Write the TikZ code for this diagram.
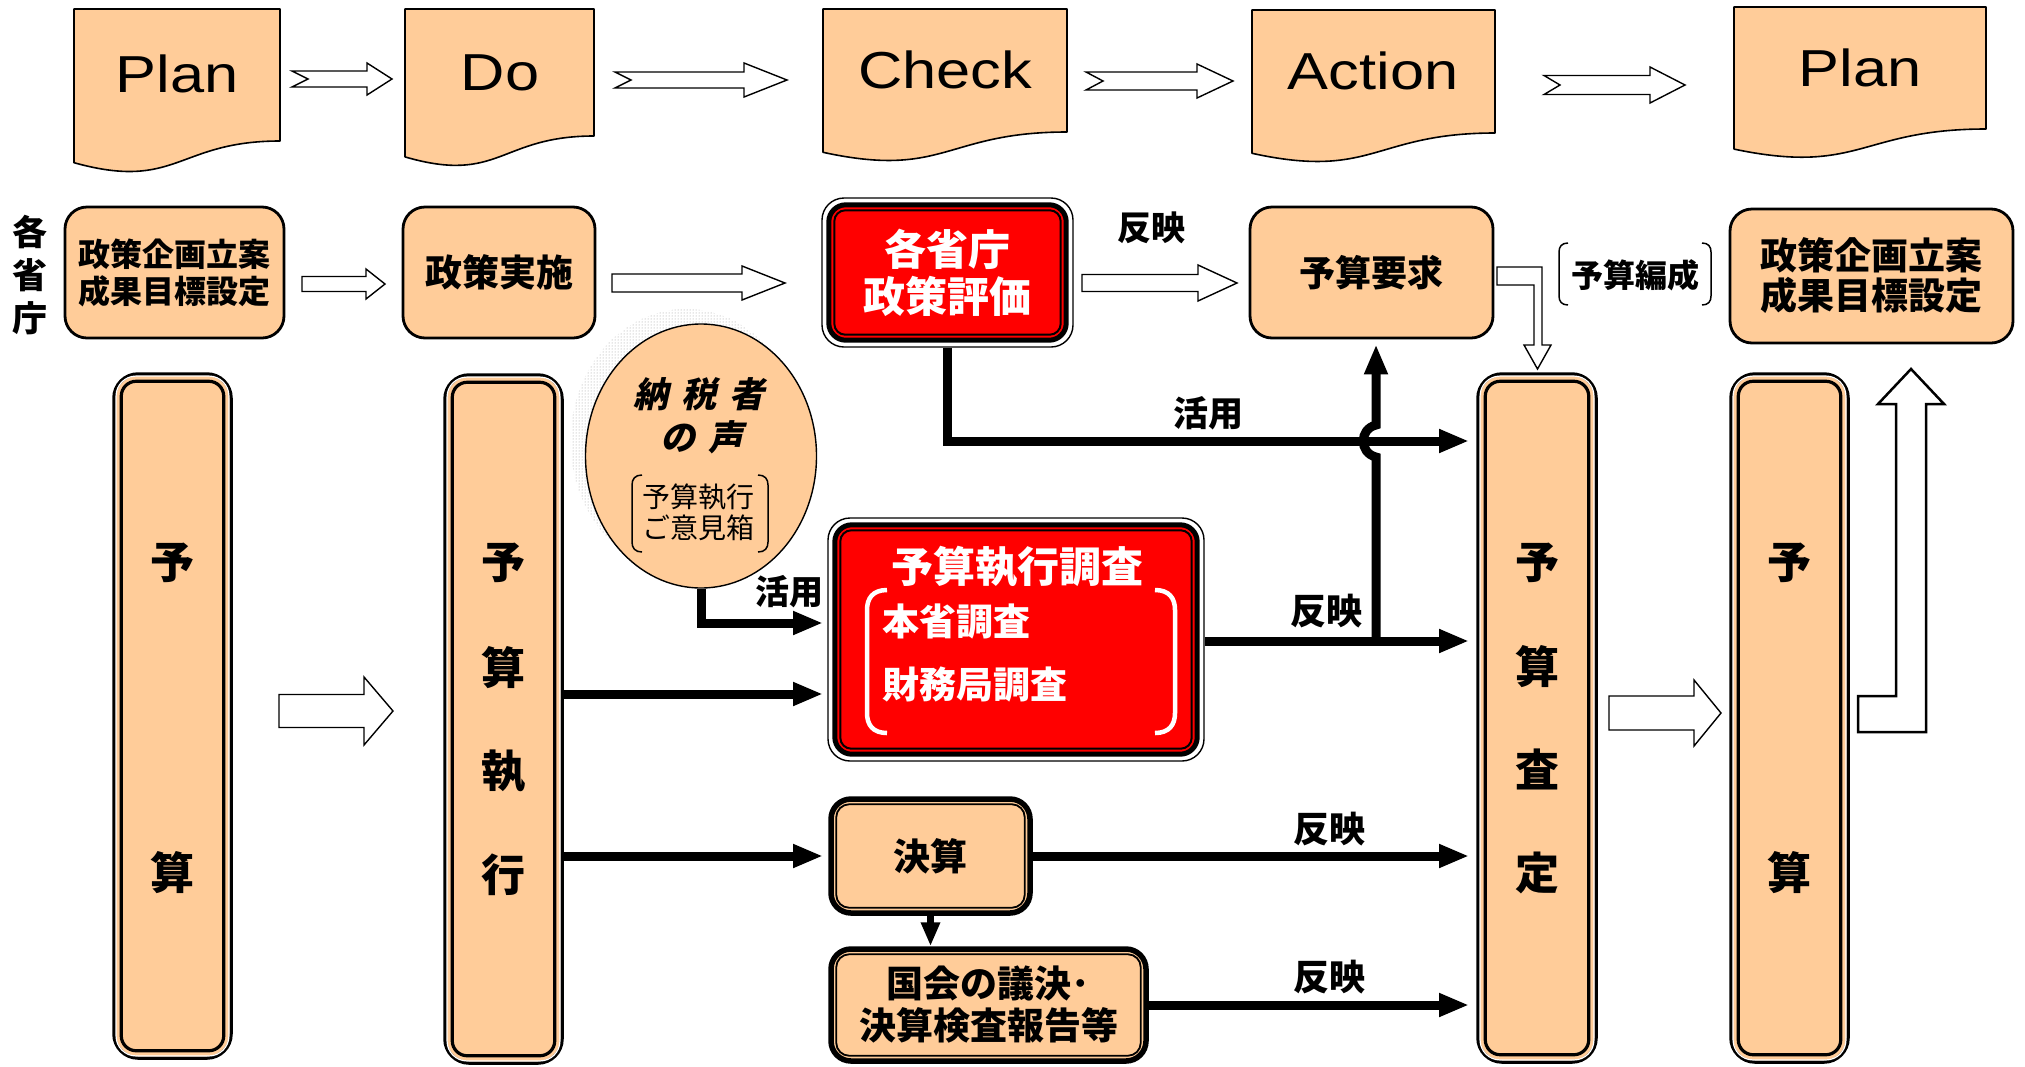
\documentclass[tikz,border=0pt]{standalone}
\usepackage{fontspec}
\usetikzlibrary{shapes.geometric,arrows.meta,patterns,calc}
\newfontfamily\jp{Noto Sans CJK JP}
\newfontfamily\pdca{Liberation Sans}[FakeStretch=1.18]
\definecolor{peach}{HTML}{FFCC99}
\definecolor{boxred}{HTML}{FF0000}
\newcommand\jfs[2]{\jp\bfseries\fontsize{#1}{#2}\selectfont}
\newcommand\notcharrow[7]{%
  \draw[hollow] (#1,#5-#6) -- (#3,#5-#6) -- (#3,#5-#7) -- (#4,#5) -- (#3,#5+#7) -- (#3,#5+#6) -- (#1,#5+#6) -- (#1+#2,#5) -- cycle;}
\newcommand\brk[6]{%
  \draw[#6] (#1+#5,#3) .. controls (#1+0.3*#5,#3) and (#1,#3+0.4*#5) .. (#1,#3+#5) -- (#1,#4-#5) .. controls (#1,#4-0.4*#5) and (#1+0.3*#5,#4) .. (#1+#5,#4);
  \draw[#6] (#2-#5,#3) .. controls (#2-0.3*#5,#3) and (#2,#3+0.4*#5) .. (#2,#3+#5) -- (#2,#4-#5) .. controls (#2,#4-0.4*#5) and (#2-0.3*#5,#4) .. (#2-#5,#4);}
\newcommand\barinner[1]{%
  \draw[white,line width=1.2pt,rounded corners=20pt] ($(#1.north west)+(3.8,3.8)$) rectangle ($(#1.south east)-(3.8,3.8)$);
  \draw[line width=3.2pt,rounded corners=15pt] ($(#1.north west)+(9,9)$) rectangle ($(#1.south east)-(9,9)$);}
\newcommand\redinner[1]{%
  \draw[line width=5pt,fill=boxred,rounded corners=17pt] ($(#1.north west)+(7.5,7.5)$) rectangle ($(#1.south east)-(7.5,7.5)$);
  \draw[line width=2pt,rounded corners=11pt] ($(#1.north west)+(13,13)$) rectangle ($(#1.south east)-(13,13)$);}
\newcommand\dblinner[1]{%
  \draw[line width=1.8pt,rounded corners=13pt] ($(#1.north west)+(8,8)$) rectangle ($(#1.south east)-(8,8)$);}
\begin{document}
\begin{tikzpicture}[x=1pt,y=-1pt,
  doc/.style={draw=black,line width=1.6pt,fill=peach,line join=round},
  doctext/.style={font=\pdca\fontsize{52}{52}\selectfont,anchor=base,inner sep=0pt},
  hollow/.style={draw=black,line width=1.4pt,fill=white,line join=miter},
  pbox/.style={draw=black,line width=2.8pt,fill=peach,rounded corners=22pt,inner sep=0pt,align=center},
  redout/.style={draw=black,line width=1.4pt,fill=white,rounded corners=22pt,inner sep=0pt},
  barbox/.style={draw=black,line width=3.5pt,fill=peach,rounded corners=24pt,inner sep=0pt},
  dblbox/.style={draw=black,line width=5.5pt,fill=peach,rounded corners=20pt,inner sep=0pt,align=center},
  thk/.style={line width=9pt,-{Triangle[length=30pt,width=22pt]}},
  lbl/.style={inner sep=0pt},
  barch/.style={inner sep=0pt,font=\jfs{44}{44}},
]
\useasboundingbox (0,0) rectangle (2025,1066);

% ---------- top row: PDCA documents ----------
\draw[doc] (74,9) -- (280,9) -- (280,141) .. controls (177,141) and (177,191.3) .. (74,162.7) -- cycle;
\node[doctext] (plan1) at (177,92) {Plan};
\draw[doc] (405,9) -- (594,9) -- (594,136) .. controls (499.5,136) and (499.5,184.4) .. (405,156.9) -- cycle;
\node[doctext] (do) at (500,90) {Do};
\draw[doc] (823,9) -- (1067,9) -- (1067,132) .. controls (945,132) and (945,178.9) .. (823,152.3) -- cycle;
\node[doctext] (check) at (945,88) {Check};
\draw[doc] (1252,10) -- (1495,10) -- (1495,133) .. controls (1373.5,133) and (1373.5,179.9) .. (1252,153.3) -- cycle;
\node[doctext] (action) at (1373,89) {Action};
\draw[doc] (1734,7) -- (1986,7) -- (1986,129) .. controls (1860,129) and (1860,175.5) .. (1734,149.1) -- cycle;
\node[doctext] (plan2) at (1860,86) {Plan};

\notcharrow{292}{16}{367}{392}{79}{8}{16}
\notcharrow{615}{16}{744}{787}{80}{8}{17}
\notcharrow{1086}{17}{1197}{1233}{81}{9}{17}
\notcharrow{1544}{16}{1650}{1685}{85}{9.5}{18}

% ---------- second row ----------
\node[inner sep=0pt,align=center,font=\jfs{35}{43}] (kakusho) at (30,275) {各\\省\\庁};
\node[pbox,minimum width=219pt,minimum height=131pt,font=\jfs{32}{37}] (sakuL) at (174.5,272.5) {政策企画立案\\成果目標設定};
\node[pbox,minimum width=192pt,minimum height=131pt,font=\jfs{37}{37}] (jisshi) at (499,272.5) {政策実施};
\node[redout,minimum width=251pt,minimum height=149pt] (eval) at (947.5,272.5) {};
\redinner{eval}
\node[inner sep=0pt,align=center,text=white,font=\jfs{42}{47}] (evalt) at (eval.center) {各省庁\\政策評価};
\node[pbox,minimum width=243pt,minimum height=131pt,font=\jfs{36}{36}] (yokyu) at (1371.5,272.5) {予算要求};
\node[pbox,minimum width=283pt,minimum height=134pt,font=\jfs{37}{40}] (sakuR) at (1871.5,276) {政策企画立案\\成果目標設定};

\notcharrow{302}{0}{366}{385}{284}{7.5}{15}
\notcharrow{612}{0}{742}{785}{283}{9}{17}
\notcharrow{1082}{0}{1198}{1237}{283}{8.5}{18}
\node[lbl,font=\jfs{34}{34}] (hanei1) at (1151,228) {反映};

% L-shaped hollow arrow to satei
\draw[hollow] (1497,267) -- (1542,267) -- (1542,345) -- (1551,345) -- (1537.5,369) -- (1524,345) -- (1534,345) -- (1534,285) -- (1497,285) -- cycle;
\brk{1559}{1711}{243}{305}{9}{black,line width=1.5pt}
\node[lbl,font=\jfs{32}{32}] (hensei) at (1635,275) {予算編成};

% ---------- bars ----------
\node[barbox,minimum width=117pt,minimum height=684pt] (yosanL) at (172.5,716) {};
\barinner{yosanL}
\node[barch] (yL1) at (172.5,563) {予};
\node[barch] (yL2) at (172.5,873) {算};

\node[barbox,minimum width=117pt,minimum height=688pt] (shikko) at (503.5,719) {};
\barinner{shikko}
\node[barch] (sk1) at (503.5,563) {予};
\node[barch] (sk2) at (503.5,668) {算};
\node[barch] (sk3) at (503.5,771) {執};
\node[barch] (sk4) at (503.5,875) {行};

\node[barbox,minimum width=118pt,minimum height=688pt] (satei) at (1537,718) {};
\barinner{satei}
\node[barch] (st1) at (1537,563) {予};
\node[barch] (st2) at (1537,667) {算};
\node[barch] (st3) at (1537,769) {査};
\node[barch] (st4) at (1537,873) {定};

\node[barbox,minimum width=117pt,minimum height=688pt] (yosanR) at (1789.5,718) {};
\barinner{yosanR}
\node[barch] (yR1) at (1789.5,563) {予};
\node[barch] (yR2) at (1789.5,873) {算};

\notcharrow{279}{0}{364}{393}{711}{16.5}{34}
\notcharrow{1609}{0}{1694}{1721}{713}{17}{33}
\draw[hollow,line width=2.5pt] (1858,732) -- (1926,732) -- (1926,404) -- (1944,404) -- (1911,369) -- (1878,404) -- (1896,404) -- (1896,696) -- (1858,696) -- cycle;

% ---------- taxpayers' voice ----------
\fill[pattern=dots,pattern color=gray!80] (686,441) ellipse [x radius=115.5pt,y radius=132pt];
\node[ellipse,draw=black,line width=1.4pt,fill=peach,minimum width=231pt,minimum height=264pt,inner sep=0pt] (koe) at (701,456) {};
\node[inner sep=0pt,font=\jfs{35}{35}\addfontfeature{FakeSlant=0.22}] (koe1) at (699,394) {納\hspace{13pt}税\hspace{13pt}者};
\node[inner sep=0pt,font=\jfs{35}{35}\addfontfeature{FakeSlant=0.22}] (koe2) at (702,437) {の\hspace{13pt}声};
\node[inner sep=0pt,align=center,font=\jp\fontsize{28}{31}\selectfont] (koe3) at (698,512) {予算執行\\ご意見箱};
\brk{632}{768}{475}{552}{10}{black,line width=1.5pt}

% ---------- budget execution survey ----------
\node[redout,minimum width=376pt,minimum height=243pt] (chosa) at (1016,639.5) {};
\redinner{chosa}
\node[inner sep=0pt,text=white,font=\jfs{42}{42}] (chosat) at (1017,567) {予算執行調査};
\node[inner sep=0pt,anchor=west,text=white,font=\jfs{37}{37}] (honsho) at (882,621) {本省調査};
\node[inner sep=0pt,anchor=west,text=white,font=\jfs{37}{37}] (zaimu) at (882,684) {財務局調査};
\brk{867}{1175}{590}{733}{20}{white,line width=4.5pt}

% ---------- settlement ----------
\node[dblbox,minimum width=199pt,minimum height=114pt,font=\jfs{37}{37}] (kessan) at (930.5,856) {決算};
\dblinner{kessan}
\node[dblbox,minimum width=315pt,minimum height=112pt,font=\jfs{37}{42}] (kokkai) at (988.5,1005) {国会の議決･\\決算検査報告等};
\dblinner{kokkai}

% ---------- connectors ----------
\coordinate (sA) at (1469,441);
\coordinate (sB) at (1469,641);
\coordinate (sC) at (1469,856);
\coordinate (sD) at (1469,1006);
\coordinate (cA) at (823,623);
\coordinate (cB) at (823,694);
\coordinate (kA) at (823,856);
\coordinate (jn) at (1376,641);

\draw[thk] (eval.south) |- (sA);
\draw[thk] (koe.south) |- (cA);
\draw[thk] (shikko.east |- cB) -- (cB);
\draw[thk] (chosa.east |- sB) -- (sB);
\draw[thk] (shikko.east |- kA) -- (kA);
\draw[thk] (kessan.east) -- (kessan.east -| sC);
\draw[line width=7pt,-{Triangle[length=24pt,width=18pt]}] (kessan.south) -- (kessan.south |- kokkai.north);
\draw[thk] (kokkai.east) -- (kokkai.east -| sD);
\draw[thk] (jn) -- (1376,457) .. controls (1359,453) and (1359,429) .. (1376,425) -- ($(yokyu.south -| jn)+(0,5)$);

\node[lbl,font=\jfs{35}{35}] (katsu1) at (1208,413) {活用};
\node[lbl,font=\jfs{34}{34}] (katsu2) at (789,592) {活用};
\node[lbl,font=\jfs{36}{36}] (hanei2) at (1326,611) {反映};
\node[lbl,font=\jfs{36}{36}] (hanei3) at (1329,829) {反映};
\node[lbl,font=\jfs{36}{36}] (hanei4) at (1329,977) {反映};
\end{tikzpicture}
\end{document}
